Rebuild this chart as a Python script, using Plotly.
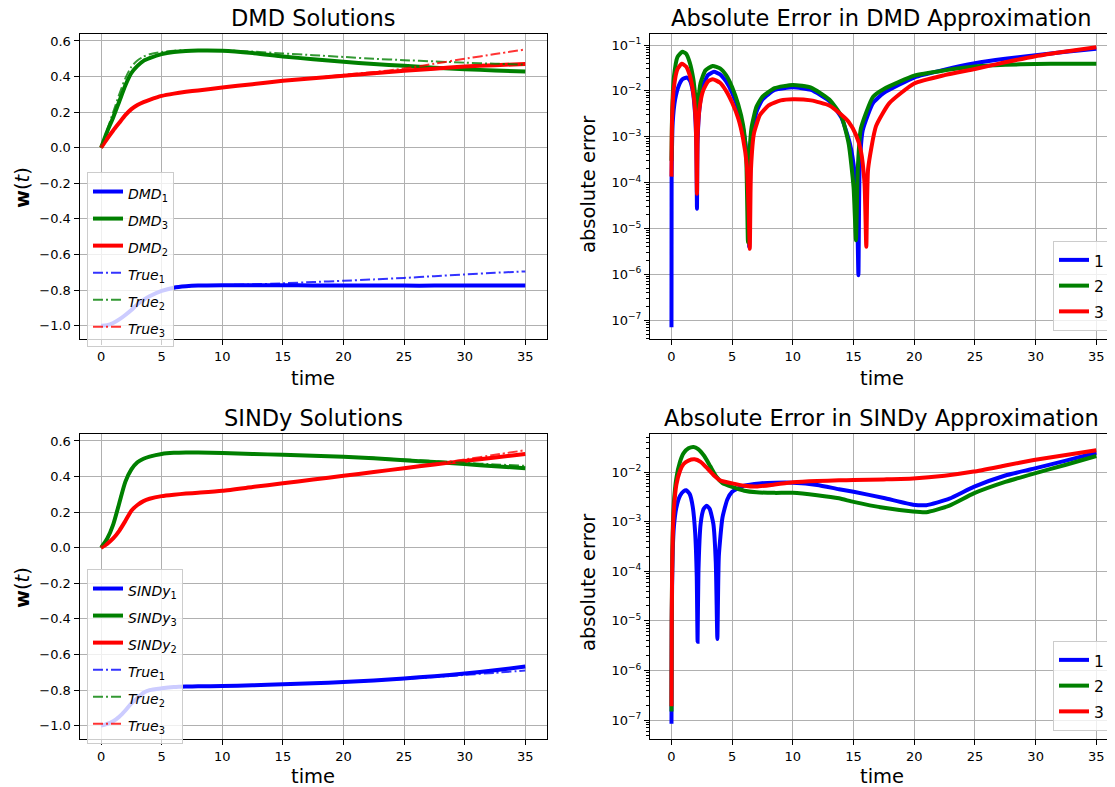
import plotly.graph_objects as go

# ---------------- data ----------------
t_sol = [0, 0.5, 1, 1.5, 2, 2.5, 3, 3.5, 4, 5, 6, 7, 8, 10, 12.5, 15, 17.5, 20, 22.5, 25, 27.5, 30, 32.5, 35]

# DMD solutions (top-left)
dmd_1 = [-1.0, -0.997, -0.985, -0.965, -0.94, -0.912, -0.88, -0.855, -0.835, -0.805, -0.787, -0.779, -0.775,
         -0.773, -0.773, -0.773, -0.774, -0.774, -0.774, -0.775, -0.775, -0.775, -0.775, -0.775]
dmd_3 = [0, 0.09, 0.17, 0.26, 0.35, 0.42, 0.46, 0.488, 0.503, 0.526, 0.538, 0.544, 0.546, 0.545, 0.532,
         0.513, 0.497, 0.483, 0.47, 0.46, 0.45, 0.441, 0.434, 0.428]
dmd_2 = [0, 0.05, 0.097, 0.14, 0.183, 0.217, 0.24, 0.256, 0.269, 0.291, 0.304, 0.314, 0.322, 0.338, 0.357,
         0.376, 0.39, 0.404, 0.418, 0.432, 0.444, 0.456, 0.464, 0.47]
true_1 = [-1.0, -0.997, -0.985, -0.965, -0.94, -0.912, -0.88, -0.855, -0.835, -0.805, -0.787, -0.779, -0.775,
          -0.772, -0.768, -0.762, -0.755, -0.748, -0.74, -0.732, -0.722, -0.712, -0.703, -0.695]
true_2 = [0, 0.10, 0.2, 0.3, 0.39, 0.455, 0.49, 0.512, 0.525, 0.538, 0.545, 0.548, 0.549, 0.547, 0.54,
          0.53, 0.52, 0.51, 0.5, 0.492, 0.485, 0.478, 0.472, 0.467]
true_3 = [0, 0.055, 0.1, 0.145, 0.186, 0.218, 0.24, 0.256, 0.268, 0.29, 0.303, 0.313, 0.322, 0.338, 0.357,
          0.376, 0.392, 0.41, 0.425, 0.445, 0.472, 0.5, 0.526, 0.552]

# SINDy solutions (bottom-left)
sindy_1 = [-1.0, -0.99, -0.975, -0.95, -0.915, -0.875, -0.845, -0.815, -0.8, -0.79, -0.783, -0.78, -0.779,
           -0.777, -0.773, -0.768, -0.762, -0.755, -0.746, -0.735, -0.722, -0.707, -0.689, -0.668]
sindy_3 = [0, 0.05, 0.13, 0.25, 0.37, 0.44, 0.48, 0.5, 0.512, 0.527, 0.533, 0.535, 0.535, 0.532, 0.527,
           0.522, 0.517, 0.511, 0.503, 0.492, 0.481, 0.47, 0.458, 0.447]
sindy_2 = [0, 0.022, 0.052, 0.095, 0.15, 0.208, 0.24, 0.262, 0.275, 0.29, 0.298, 0.304, 0.309, 0.32, 0.341,
           0.362, 0.383, 0.404, 0.425, 0.447, 0.468, 0.488, 0.507, 0.526]
strue_1 = [-1.0, -0.99, -0.975, -0.95, -0.915, -0.875, -0.845, -0.815, -0.8, -0.79, -0.783, -0.78, -0.779,
           -0.777, -0.773, -0.768, -0.762, -0.755, -0.747, -0.738, -0.727, -0.715, -0.703, -0.69]
strue_2 = [0, 0.055, 0.135, 0.26, 0.375, 0.445, 0.483, 0.502, 0.514, 0.528, 0.534, 0.536, 0.536, 0.533, 0.528,
           0.523, 0.518, 0.512, 0.505, 0.496, 0.487, 0.477, 0.468, 0.46]
strue_3 = [0, 0.024, 0.055, 0.098, 0.153, 0.21, 0.241, 0.263, 0.276, 0.29, 0.298, 0.304, 0.309, 0.32, 0.341,
           0.362, 0.383, 0.404, 0.425, 0.448, 0.472, 0.496, 0.522, 0.548]

# Absolute error, DMD (top-right)
te_d1 = [0, 0.01, 0.1, 0.3, 0.6, 0.9, 1.25, 1.5, 1.75, 1.95, 2.05, 2.1, 2.15, 2.3, 2.6, 3.0, 3.5, 4.0, 4.5, 5.0,
         5.5, 5.9, 6.2, 6.35, 6.4, 6.45, 6.6, 7.0, 7.5, 8.5, 10, 11.5, 13, 14, 14.7, 15.1, 15.3, 15.4, 15.5,
         15.76, 16.6, 17.5, 20, 22.5, 25, 27.5, 30, 32.5, 35]
ed_1 = [7e-8, 1.2e-4, 2e-3, 6.5e-3, 0.013, 0.018, 0.0195, 0.017, 0.01, 3e-3, 6e-4, 2.7e-5, 8e-4, 4e-3, 0.013,
        0.022, 0.026, 0.023, 0.016, 0.009, 4e-3, 1.5e-3, 4e-4, 5e-5, 4e-6, 6e-5, 8e-4, 3.5e-3, 6.5e-3, 0.0105,
        0.012, 0.0105, 6e-3, 2.6e-3, 7e-4, 1.5e-4, 2e-5, 9.5e-7, 2e-4, 1.4e-3, 5.4e-3, 9e-3, 0.0195, 0.029,
        0.04, 0.05, 0.06, 0.071, 0.083]
te_d2 = [0, 0.05, 0.2, 0.5, 0.9, 1.2, 1.5, 1.8, 2.0, 2.1, 2.2, 2.4, 2.8, 3.4, 4.0, 4.5, 5.0, 5.5, 5.9, 6.15,
         6.3, 6.4, 6.6, 7.0, 7.5, 8.5, 10, 11.5, 13, 14, 14.6, 15.0, 15.2, 15.35, 15.6, 16.6, 17.5, 20, 22.5,
         25, 27.5, 30, 32.5, 35]
ed_2 = [3e-4, 3e-3, 0.02, 0.055, 0.071, 0.065, 0.042, 0.018, 6e-3, 3e-3, 6e-3, 0.015, 0.028, 0.035, 0.031,
        0.022, 0.012, 5e-3, 1.8e-3, 4e-4, 5e-6, 3e-4, 1.6e-3, 4.5e-3, 7.5e-3, 0.0115, 0.0135, 0.0118, 6.5e-3,
        2.8e-3, 7e-4, 8e-5, 5.5e-6, 2e-4, 1.5e-3, 7.4e-3, 0.011, 0.0215, 0.028, 0.034, 0.037, 0.0385, 0.039,
        0.039]
te_d3 = [0, 0.05, 0.2, 0.5, 0.85, 1.2, 1.5, 1.8, 2.0, 2.1, 2.15, 2.3, 2.6, 3.0, 3.4, 4.0, 4.5, 5.0, 5.5, 5.9,
         6.2, 6.35, 6.45, 6.55, 6.8, 7.3, 8.0, 9, 10, 11.5, 13, 14, 14.6, 15.2, 15.6, 15.9, 16.05, 16.2, 16.85,
         17.95, 20, 22.5, 25, 27.5, 30, 32.5, 35]
ed_3 = [1.35e-4, 2.5e-3, 0.012, 0.03, 0.039, 0.034, 0.022, 9e-3, 2e-3, 5.7e-5, 1e-3, 4e-3, 0.01, 0.016, 0.018,
        0.015, 0.01, 5.5e-3, 2.5e-3, 9e-4, 2.5e-4, 3e-5, 3.6e-6, 2e-4, 1.2e-3, 3e-3, 4.8e-3, 6.2e-3, 6.6e-3,
        6.2e-3, 4.8e-3, 3e-3, 2.1e-3, 1.1e-3, 5e-4, 1e-4, 4e-6, 2e-4, 1.7e-3, 5.4e-3, 0.0145, 0.022, 0.03,
        0.042, 0.057, 0.072, 0.089]

# Absolute error, SINDy (bottom-right)
te_s1 = [0, 0.02, 0.05, 0.1, 0.2, 0.4, 0.7, 1.0, 1.22, 1.5, 1.75, 1.95, 2.08, 2.15, 2.22, 2.4, 2.65, 2.9,
         3.15, 3.45, 3.65, 3.78, 3.9, 4.2, 4.6, 5.0, 6, 7.27, 8.5, 10, 12, 13.8, 15, 17.5, 19.9, 21, 22.9,
         24.9, 27.5, 29.85, 32.5, 35]
es_1 = [8.5e-8, 5e-6, 5e-5, 2.5e-4, 8e-4, 1.9e-3, 3.3e-3, 4.1e-3, 4.3e-3, 3.6e-3, 2e-3, 6e-4, 8e-5, 3.8e-6,
        1e-4, 9e-4, 1.8e-3, 2.1e-3, 1.8e-3, 9e-4, 1.5e-4, 4.3e-6, 2e-4, 1.2e-3, 2.8e-3, 4e-3, 5.3e-3, 5.9e-3,
        6.1e-3, 6.1e-3, 5.5e-3, 4.5e-3, 4e-3, 3e-3, 2.2e-3, 2.15e-3, 2.9e-3, 5e-3, 8.5e-3, 0.0117, 0.017,
        0.0245]
te_s2 = [0, 0.02, 0.05, 0.1, 0.2, 0.4, 0.7, 1.0, 1.4, 1.82, 2.2, 2.7, 3.2, 3.7, 4.2, 5.0, 6, 7, 8.5, 10, 12,
         13.8, 15, 17.5, 19.9, 21, 22.9, 24.9, 27.5, 29.85, 32.5, 35]
es_2 = [1.5e-7, 1e-5, 1e-4, 6e-4, 2.5e-3, 7.5e-3, 0.016, 0.024, 0.03, 0.032, 0.029, 0.021, 0.013, 8e-3, 6e-3,
        5e-3, 4.2e-3, 3.9e-3, 3.8e-3, 3.8e-3, 3.4e-3, 2.95e-3, 2.5e-3, 1.9e-3, 1.6e-3, 1.55e-3, 2.1e-3, 3.7e-3,
        6.3e-3, 9.3e-3, 0.014, 0.021]
te_s3 = [0, 0.02, 0.05, 0.1, 0.2, 0.4, 0.7, 1.0, 1.4, 1.9, 2.4, 3.0, 3.5, 4.0, 5.0, 6, 7, 8.5, 10, 12, 13.8,
         15, 17.5, 19.9, 22.5, 24.9, 27.5, 29.85, 32.5, 35]
es_3 = [1.9e-7, 1e-5, 8e-5, 4.5e-4, 1.8e-3, 5.5e-3, 0.0105, 0.0145, 0.017, 0.018, 0.016, 0.0115, 8.5e-3,
        6.8e-3, 5.9e-3, 5.3e-3, 5.1e-3, 5.6e-3, 6.2e-3, 6.6e-3, 6.8e-3, 6.9e-3, 7.1e-3, 7.4e-3, 8.4e-3,
        0.0102, 0.0135, 0.0174, 0.022, 0.0275]

x_ticks = [0, 5, 10, 15, 20, 25, 30, 35]
lin_ticks = [-1.0, -0.8, -0.6, -0.4, -0.2, 0.0, 0.2, 0.4, 0.6]
lin_text = ["\u22121.0", "\u22120.8", "\u22120.6", "\u22120.4", "\u22120.2", "0.0", "0.2", "0.4", "0.6"]
log_ticks = [1e-7, 1e-6, 1e-5, 1e-4, 1e-3, 1e-2, 1e-1]
log_text = ["10<sup>\u22127</sup>", "10<sup>\u22126</sup>", "10<sup>\u22125</sup>", "10<sup>\u22124</sup>",
            "10<sup>\u22123</sup>", "10<sup>\u22122</sup>", "10<sup>\u22121</sup>"]

titles = ["DMD Solutions", "Absolute Error in DMD Approximation",
          "SINDy Solutions", "Absolute Error in SINDy Approximation"]
x_label = "time"
y_label_sol = "<b>w</b>(<i>t</i>)"
y_label_err = "absolute error"

BLUE, GREEN, RED = "#0000ff", "#008000", "#ff0000"
BLUE_A, GREEN_A, RED_A = "rgba(0,0,255,0.8)", "rgba(0,128,0,0.8)", "rgba(255,0,0,0.8)"
FONT = "DejaVu Sans"

# The page body has an 8px margin, so the figure is drawn 8px in from the corner.
OFF = 8
W, H = 1115 - OFF, 787 - OFF

fig = go.Figure()

def leg_text(base, i):
    return '<span style="font-size:14px"><i>%s</i><sub>%d</sub></span>' % (base, i)

def solid(x, y, color, name, xa, ya, leg):
    fig.add_trace(go.Scatter(x=x, y=y, mode="lines", name=name, legend=leg,
                             line=dict(color=color, width=4, shape="spline", smoothing=0.6),
                             xaxis=xa, yaxis=ya))

def dashed(x, y, color, name, xa, ya, leg):
    fig.add_trace(go.Scatter(x=x, y=y, mode="lines", name=name, legend=leg,
                             line=dict(color=color, width=2, dash="10px,3px,2px,3px",
                                       shape="spline", smoothing=0.6),
                             xaxis=xa, yaxis=ya))

# top-left
solid(t_sol, dmd_1, BLUE, leg_text("DMD", 1), "x", "y", "legend")
solid(t_sol, dmd_3, GREEN, leg_text("DMD", 3), "x", "y", "legend")
solid(t_sol, dmd_2, RED, leg_text("DMD", 2), "x", "y", "legend")
dashed(t_sol, true_1, BLUE_A, leg_text("True", 1), "x", "y", "legend")
dashed(t_sol, true_2, GREEN_A, leg_text("True", 2), "x", "y", "legend")
dashed(t_sol, true_3, RED_A, leg_text("True", 3), "x", "y", "legend")

# bottom-left
solid(t_sol, sindy_1, BLUE, leg_text("SINDy", 1), "x3", "y3", "legend3")
solid(t_sol, sindy_3, GREEN, leg_text("SINDy", 3), "x3", "y3", "legend3")
solid(t_sol, sindy_2, RED, leg_text("SINDy", 2), "x3", "y3", "legend3")
dashed(t_sol, strue_1, BLUE_A, leg_text("True", 1), "x3", "y3", "legend3")
dashed(t_sol, strue_2, GREEN_A, leg_text("True", 2), "x3", "y3", "legend3")
dashed(t_sol, strue_3, RED_A, leg_text("True", 3), "x3", "y3", "legend3")

def errline(x, y, color, name, xa, ya, leg):
    fig.add_trace(go.Scatter(x=x, y=y, mode="lines", legend=leg,
                             name='<span style="font-size:15.5px">%s</span>' % name,
                             line=dict(color=color, width=4, shape="spline", smoothing=0.5),
                             xaxis=xa, yaxis=ya))

errline(te_d1, ed_1, BLUE, "1", "x2", "y2", "legend2")
errline(te_d2, ed_2, GREEN, "2", "x2", "y2", "legend2")
errline(te_d3, ed_3, RED, "3", "x2", "y2", "legend2")
errline(te_s1, es_1, BLUE, "1", "x4", "y4", "legend4")
errline(te_s2, es_2, GREEN, "2", "x4", "y4", "legend4")
errline(te_s3, es_3, RED, "3", "x4", "y4", "legend4")

# ---------------- layout ----------------
def px_x(p):
    return (p - OFF) / W

def px_y(p):
    return 1 - (p - OFF) / H

dom_xl = [px_x(79.5), px_x(546.5)]
dom_xr = [px_x(650), 1.0]
dom_yt = [px_y(339), px_y(34)]
dom_yb = [px_y(739), px_y(434)]

tickfont = dict(family=FONT, size=13, color="#000")

def xax(domain, anchor, rng):
    return dict(domain=domain, anchor=anchor, range=rng, tickmode="array", tickvals=x_ticks,
                ticks="outside", ticklen=5, tickcolor="#000", tickfont=tickfont, automargin=False,
                showgrid=True, gridcolor="#b0b0b0", gridwidth=1, zeroline=False,
                showline=True, linecolor="#000", linewidth=1, mirror=True)

def linyax(domain, anchor):
    return dict(domain=domain, anchor=anchor, range=[-1.075, 0.639], tickmode="array",
                tickvals=lin_ticks, ticktext=lin_text, ticks="outside", ticklen=5, tickcolor="#000",
                tickfont=tickfont, automargin=False,
                showgrid=True, gridcolor="#b0b0b0", gridwidth=1, zeroline=False,
                showline=True, linecolor="#000", linewidth=1, mirror=True)

minor_vals = [m * 10.0 ** e for e in range(-8, 0) for m in range(2, 10)]

def logyax(domain, anchor, rng):
    return dict(domain=domain, anchor=anchor, type="log", range=rng, tickmode="array",
                tickvals=log_ticks, ticktext=log_text, ticks="outside", ticklen=5, tickcolor="#000",
                tickfont=tickfont, automargin=False,
                showgrid=True, gridcolor="#b0b0b0", gridwidth=1, zeroline=False,
                showline=True, linecolor="#000", linewidth=1, mirror=False,
                minor=dict(tickmode="array", tickvals=minor_vals, ticks="outside", ticklen=3,
                           tickcolor="#000", showgrid=False))

leg_common = dict(bgcolor="rgba(255,255,255,0.8)", bordercolor="#cccccc", borderwidth=1,
                  tracegroupgap=0)

annotations = []

def ann(text, cx, cy, size, angle=0):
    annotations.append(dict(text=text, x=px_x(cx), y=px_y(cy), xref="paper", yref="paper",
                            xanchor="center", yanchor="middle", showarrow=False, textangle=angle,
                            font=dict(family=FONT, size=size, color="#000")))

xl_c = (79.5 + 546.5) / 2
xr_c = 881.5
ann(titles[0], xl_c, 18, 22.5)
ann(titles[1], xr_c, 18, 22.5)
ann(titles[2], xl_c, 418, 22.5)
ann(titles[3], xr_c, 418, 22.5)
ann(x_label, xl_c, 378, 19.5)
ann(x_label, xr_c, 378, 19.5)
ann(x_label, xl_c, 776, 19.5)
ann(x_label, xr_c, 776, 19.5)
ann(y_label_sol, 22, 188, 19.5, -90)
ann(y_label_sol, 22, 588, 19.5, -90)
ann(y_label_err, 588, 184, 19.5, -90)
ann(y_label_err, 588, 582, 19.5, -90)

fig.update_layout(
    width=W, height=H, margin=dict(l=0, r=0, t=0, b=0, autoexpand=False),
    paper_bgcolor="white", plot_bgcolor="white",
    font=dict(family=FONT, color="#000"),
    xaxis=xax(dom_xl, "y", [-1.78, 36.75]),
    yaxis=linyax(dom_yt, "x"),
    xaxis2=xax(dom_xr, "y2", [-1.77, 36.54]),
    yaxis2=logyax(dom_yt, "x2", [-7.41, -0.76]),
    xaxis3=xax(dom_xl, "y3", [-1.78, 36.75]),
    yaxis3=linyax(dom_yb, "x3"),
    xaxis4=xax(dom_xr, "y4", [-1.77, 36.54]),
    yaxis4=logyax(dom_yb, "x4", [-7.38, -1.234]),
    legend=dict(x=px_x(87), y=px_y(172), xanchor="left", yanchor="top",
                font=dict(family=FONT, size=18.5, color="#000"), **leg_common),
    legend3=dict(x=px_x(87), y=px_y(569), xanchor="left", yanchor="top",
                 font=dict(family=FONT, size=18.5, color="#000"), **leg_common),
    legend2=dict(x=px_x(1110), y=px_y(331), xanchor="right", yanchor="bottom",
                 font=dict(family=FONT, size=17.5, color="#000"), **leg_common),
    legend4=dict(x=px_x(1110), y=px_y(731), xanchor="right", yanchor="bottom",
                 font=dict(family=FONT, size=17.5, color="#000"), **leg_common),
    annotations=annotations,
    showlegend=True,
)

fig.write_html("out.html")
